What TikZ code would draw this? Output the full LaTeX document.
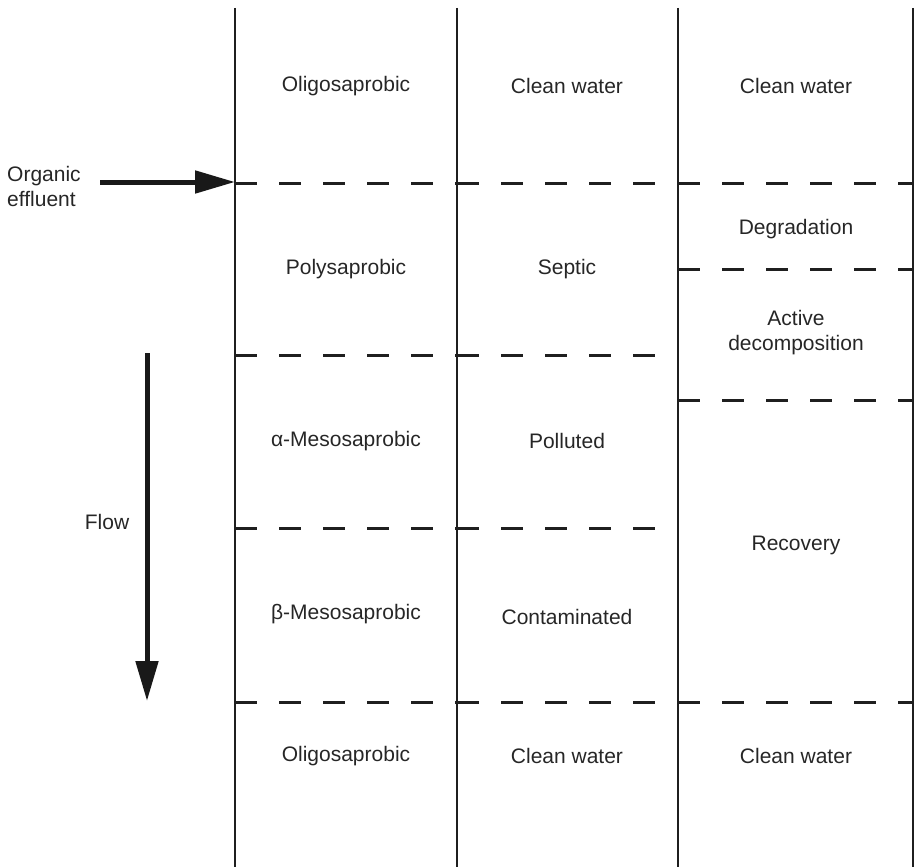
\documentclass[tikz,border=0pt]{standalone}
\usepackage{fontspec}
\setmainfont{Liberation Sans}
\usetikzlibrary{arrows.meta}
\begin{document}
\begin{tikzpicture}[x=1pt,y=-1pt,
  lbl/.style={font=\fontsize{21}{25}\selectfont, align=center, inner sep=0pt, text=black!85},
  colline/.style={line width=2.6pt, black!88},
  divline/.style={line width=3pt, black!88, dash pattern=on 22pt off 22pt},
  bigarrow/.style={line width=5pt, black!90, -{Triangle[length=40pt,width=22pt]}}]
\useasboundingbox (0,0) rectangle (916,867);
% column lines
\foreach \x/\n in {235/a,457/b,678/c,913/d}{
  \coordinate (\n top) at (\x,8);
  \coordinate (\n bot) at (\x,867);
  \draw[colline] (\n top) -- (\n bot);
}
% dashed dividers: each column separately, starting at its left line
\foreach \y in {183,702}{
  \draw[divline] (235,\y) -- (457,\y);
  \draw[divline] (457,\y) -- (678,\y);
  \draw[divline] (678,\y) -- (913,\y);
}
\foreach \y in {355,528}{
  \draw[divline] (235,\y) -- (457,\y);
  \draw[divline] (457,\y) -- (678,\y);
}
\foreach \y in {269,400}{
  \draw[divline] (678,\y) -- (913,\y);
}
% column 1
\node[lbl] (c1r1) at (346,86) {Oligosaprobic};
\node[lbl] (c1r2) at (346,269) {Polysaprobic};
\node[lbl] (c1r3) at (346,441) {α-Mesosaprobic};
\node[lbl] (c1r4) at (346,614) {β-Mesosaprobic};
\node[lbl] (c1r5) at (346,756) {Oligosaprobic};
% column 2
\node[lbl] (c2r1) at (567,86) {Clean water};
\node[lbl] (c2r2) at (567,269) {Septic};
\node[lbl] (c2r3) at (567,441) {Polluted};
\node[lbl] (c2r4) at (567,617) {Contaminated};
\node[lbl] (c2r5) at (567,756) {Clean water};
% column 3
\node[lbl] (c3r1) at (796,86) {Clean water};
\node[lbl] (c3r2) at (796,229) {Degradation};
\node[lbl] (c3r3) at (796,333) {Active\\decomposition};
\node[lbl] (c3r4) at (796,545) {Recovery};
\node[lbl] (c3r5) at (796,756) {Clean water};
% organic effluent
\node[lbl, align=left, anchor=west] (eff) at (7,186) {Organic\\effluent};
\coordinate (effs) at (100,182);
\coordinate (effe) at (235,182);
\draw[bigarrow] (effs) -- (effe);
% flow
\node[lbl] (flow) at (107,522) {Flow};
\coordinate (flows) at (147,353);
\coordinate (flowe) at (147,701);
\draw[bigarrow] (flows) -- (flowe);
\end{tikzpicture}
\end{document}
